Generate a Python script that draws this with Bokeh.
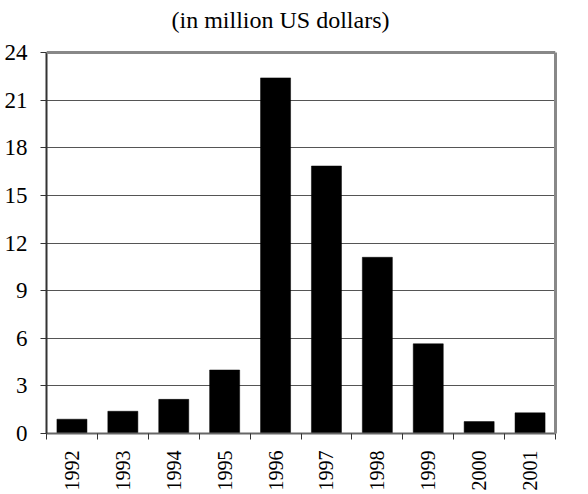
import math
from bokeh.plotting import figure
from bokeh.models import Range1d, FixedTicker, LinearAxis, Span, Label
from bokeh.embed import file_html
from bokeh.resources import INLINE

years = ["1992", "1993", "1994", "1995", "1996", "1997", "1998", "1999", "2000", "2001"]
values = [0.9, 1.4, 2.15, 4.0, 22.4, 16.85, 11.1, 5.65, 0.75, 1.3]
y_ticks = [0, 3, 6, 9, 12, 15, 18, 21, 24]
title_text = "(in million US dollars)"

FONT = "'Liberation Serif', 'Times New Roman', serif"
W, H = 588, 494
BL, BR, BB = 46, 33, 61
PLOT_TOP = 52            # pixel row of the value 24 line
n = len(years)
centers = list(range(n))
boundaries = [i - 0.5 for i in range(n + 1)]

frame_h = H - BB
y_lo, y_hi = y_ticks[0], y_ticks[-1]
# the frame reaches the top of the canvas so the title can live inside it
y_view_top = y_lo + (y_hi - y_lo) * frame_h / (frame_h - PLOT_TOP)

p = figure(width=W, height=H, output_backend="svg", toolbar_location=None,
           x_range=Range1d(-0.5, n - 0.5), y_range=Range1d(y_lo, y_view_top),
           min_border_left=BL, min_border_right=BR, min_border_top=0, min_border_bottom=BB)
p.outline_line_color = None
p.background_fill_color = "white"
p.border_fill_color = "white"

p.vbar(x=centers, top=values, bottom=0, width=0.59, fill_color="black", line_color="black", line_width=0.5)

# y axis
ya = p.yaxis[0]
ya.ticker = FixedTicker(ticks=y_ticks)
ya.bounds = (y_lo, y_hi)
ya.axis_line_color = "#333333"
ya.axis_line_width = 2
ya.major_tick_out = 6
ya.major_tick_in = 0
ya.major_tick_line_color = "#333333"
ya.minor_tick_line_color = None
ya.major_label_standoff = 13
ya.major_label_text_font = FONT
ya.major_label_text_font_size = "23px"
ya.major_label_text_color = "black"

# x axis
xa = p.xaxis[0]
xa.ticker = FixedTicker(ticks=centers, minor_ticks=boundaries)
xa.major_label_overrides = {c: y for c, y in zip(centers, years)}
xa.major_label_orientation = math.pi / 2
xa.axis_line_color = "#666666"
xa.axis_line_width = 2
xa.major_tick_out = 6
xa.major_tick_in = 0
xa.major_tick_line_color = None
xa.minor_tick_out = 6
xa.minor_tick_in = 0
xa.minor_tick_line_color = "#333333"
xa.major_label_standoff = 11
xa.major_label_text_font = FONT
xa.major_label_text_font_size = "20px"
xa.major_label_text_color = "black"

# grid
p.xgrid.grid_line_color = None
p.ygrid.ticker = FixedTicker(ticks=y_ticks[1:-1])
p.ygrid.grid_line_color = "#555555"
p.ygrid.grid_line_width = 1

# gray frame: top line at 24 and right axis limited to 0..24
p.add_layout(Span(location=y_hi, dimension="width", line_color="#888888", line_width=3))
rax = LinearAxis(ticker=FixedTicker(ticks=[]), major_label_text_font_size="0px",
                 axis_line_color="#888888", axis_line_width=3, bounds=(y_lo, y_hi),
                 major_tick_line_color=None, minor_tick_line_color=None)
p.add_layout(rax, "right")

# title (screen units measured from the frame's bottom-left corner)
title = Label(x=280 - BL, y=frame_h - 19, x_units="screen", y_units="screen", text=title_text,
              text_font=FONT, text_font_size="24px", text_align="center",
              text_baseline="alphabetic", text_color="black")
p.add_layout(title)

open("out.html", "w").write(file_html(p, INLINE))
